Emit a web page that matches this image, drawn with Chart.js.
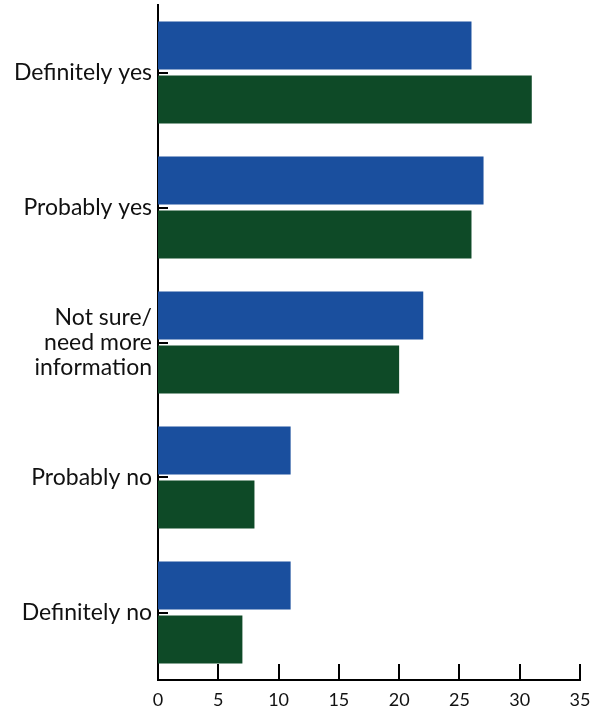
<!DOCTYPE html>
<html>
<head>
<meta charset="utf-8">
<script src="https://cdn.jsdelivr.net/npm/chart.js@4/dist/chart.umd.min.js"></script>
<style>
  html, body { margin: 0; padding: 0; background: #fff; }
  #wrap { width: 593px; height: 711px; }
</style>
</head>
<body>
<div id="wrap"><canvas id="myChart"></canvas></div>
<script>
// answer categories and the two survey waves
const categories = ['Definitely yes', 'Probably yes', ['Not sure/', 'need more', 'information'], 'Probably no', 'Definitely no'];
const blueValues = [26, 27, 22, 11, 11];
const greenValues = [31, 26, 20, 8, 7];
const xTicks = [0, 5, 10, 15, 20, 25, 30, 35];

// short inward tick marks on both axes
const innerTicks = {
    id: 'innerTicks',
    afterDraw: (chart) => {
        const {ctx, chartArea: {left, bottom}, scales: {x, y}} = chart;
        ctx.save();
        ctx.strokeStyle = '#000';
        ctx.lineWidth = 2;
        categories.forEach((c, i) => {
            const py = Math.round(y.getPixelForValue(i));
            ctx.beginPath();
            ctx.moveTo(left, py);
            ctx.lineTo(left + 10, py);
            ctx.stroke();
        });
        xTicks.forEach(v => {
            const px = Math.round(x.getPixelForValue(v));
            ctx.beginPath();
            ctx.moveTo(px, bottom);
            ctx.lineTo(px, bottom - 16);
            ctx.stroke();
        });
        ctx.restore();
    }
};

// drop the extra room Chart.js keeps for half-labels at the axis ends
function noEdgePadding(s) {
    s.paddingTop = 0;
    s.paddingBottom = 0;
    s.paddingLeft = 0;
    s.paddingRight = 0;
}

const ctx = document.getElementById('myChart').getContext('2d');
const myChart = new Chart(ctx, {
    type: 'bar',
    data: {
        labels: categories,
        datasets: [
            {label: 'Blue', data: blueValues, backgroundColor: '#1a4f9e', categoryPercentage: 0.8, barPercentage: 0.889},
            {label: 'Green', data: greenValues, backgroundColor: '#0e4a27', categoryPercentage: 0.8, barPercentage: 0.889}
        ]
    },
    options: {
        indexAxis: 'y',
        responsive: true,
        maintainAspectRatio: false,
        animation: false,
        layout: {padding: {top: 5, right: 13, left: 0, bottom: 0}},
        scales: {
            x: {
                min: 0, max: 35,
                afterBuildTicks: (s) => { s.ticks = xTicks.map(v => ({value: v})); },
                grid: {display: false, drawTicks: false},
                border: {display: true, color: '#000', width: 2},
                ticks: {color: '#111', font: {family: 'Lato', size: 18}, padding: 9, maxRotation: 0},
                afterFit: (s) => { s.height = 31; noEdgePadding(s); }
            },
            y: {
                grid: {display: false, drawTicks: false},
                border: {display: true, color: '#000', width: 2},
                ticks: {color: '#111', font: {family: 'Lato', size: 23, lineHeight: '25px'}, padding: 6, crossAlign: 'near'},
                afterFit: (s) => { s.width = 158; noEdgePadding(s); }
            }
        },
        plugins: {
            legend: {display: false},
            tooltip: {enabled: false}
        }
    },
    plugins: [innerTicks]
});
</script>
</body>
</html>
